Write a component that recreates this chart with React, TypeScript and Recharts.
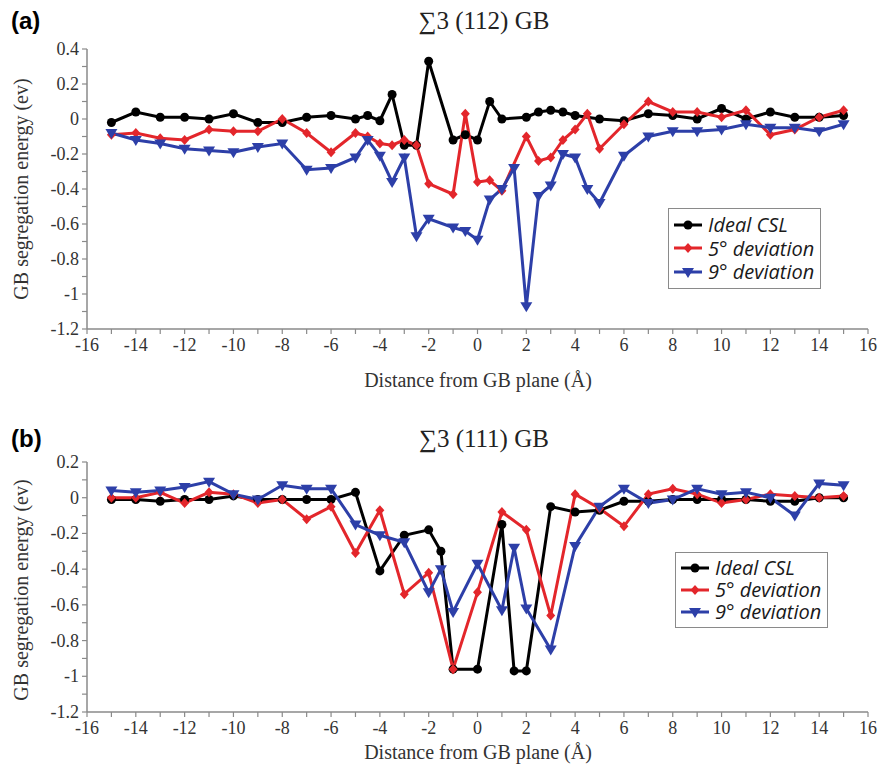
import React from "react";
import { LineChart, Line, XAxis, YAxis } from "recharts";

// ---------- Panel (a): Σ3 (112) GB ----------
const aIdealX = [-15, -14, -13, -12, -11, -10, -9, -8, -7, -6, -5, -4.5, -4, -3.5, -3, -2.5, -2, -1, -0.5, 0, 0.5, 1, 2, 2.5, 3, 3.5, 4, 5, 6, 7, 8, 9, 10, 11, 12, 13, 14, 15];
const aIdealY = [-0.02, 0.04, 0.01, 0.01, 0.0, 0.03, -0.02, -0.02, 0.01, 0.02, 0.0, 0.02, -0.01, 0.14, -0.15, -0.15, 0.33, -0.12, -0.09, -0.12, 0.1, 0.0, 0.01, 0.04, 0.05, 0.04, 0.02, 0.0, -0.01, 0.03, 0.02, 0.0, 0.06, 0.0, 0.04, 0.01, 0.01, 0.02];

const a5X = [-15, -14, -13, -12, -11, -10, -9, -8, -7, -6, -5, -4.5, -4, -3.5, -3, -2.5, -2, -1, -0.5, 0, 0.5, 1, 2, 2.5, 3, 3.5, 4, 4.5, 5, 6, 7, 8, 9, 10, 11, 12, 13, 14, 15];
const a5Y = [-0.09, -0.08, -0.11, -0.12, -0.06, -0.07, -0.07, 0.0, -0.08, -0.19, -0.08, -0.1, -0.14, -0.15, -0.12, -0.15, -0.37, -0.43, 0.03, -0.36, -0.35, -0.41, -0.1, -0.24, -0.22, -0.12, -0.06, 0.03, -0.17, -0.03, 0.1, 0.04, 0.04, 0.01, 0.05, -0.09, -0.06, 0.01, 0.05];

const a9X = [-15, -14, -13, -12, -11, -10, -9, -8, -7, -6, -5, -4.5, -4, -3.5, -3, -2.5, -2, -1, -0.5, 0, 0.5, 1, 1.5, 2, 2.5, 3, 3.5, 4, 4.5, 5, 6, 7, 8, 9, 10, 11, 12, 13, 14, 15];
const a9Y = [-0.08, -0.12, -0.14, -0.17, -0.18, -0.19, -0.16, -0.14, -0.29, -0.28, -0.22, -0.12, -0.21, -0.36, -0.22, -0.67, -0.57, -0.62, -0.64, -0.69, -0.46, -0.4, -0.28, -1.07, -0.44, -0.38, -0.2, -0.22, -0.4, -0.48, -0.21, -0.1, -0.07, -0.07, -0.06, -0.03, -0.05, -0.05, -0.07, -0.03];

// ---------- Panel (b): Σ3 (111) GB ----------
const bIdealX = [-15, -14, -13, -12, -11, -10, -9, -8, -7, -6, -5, -4, -3, -2, -1.5, -1, 0, 1, 1.5, 2, 3, 4, 5, 6, 7, 8, 9, 10, 11, 12, 13, 14, 15];
const bIdealY = [-0.01, -0.01, -0.02, -0.01, -0.01, 0.01, -0.01, -0.01, -0.01, -0.01, 0.03, -0.41, -0.21, -0.18, -0.3, -0.96, -0.96, -0.15, -0.97, -0.97, -0.05, -0.08, -0.07, -0.02, -0.02, -0.01, -0.01, -0.01, -0.01, -0.02, -0.02, 0.0, 0.0];

const b5X = [-15, -14, -13, -12, -11, -10, -9, -8, -7, -6, -5, -4, -3, -2, -1, 0, 1, 2, 3, 4, 5, 6, 7, 8, 9, 10, 11, 12, 13, 14, 15];
const b5Y = [0.0, 0.0, 0.03, -0.03, 0.03, 0.02, -0.03, -0.01, -0.12, -0.05, -0.31, -0.07, -0.54, -0.42, -0.96, -0.53, -0.08, -0.18, -0.66, 0.02, -0.06, -0.16, 0.02, 0.05, 0.02, -0.03, -0.01, 0.02, 0.01, 0.0, 0.01];

const b9X = [-15, -14, -13, -12, -11, -10, -9, -8, -7, -6, -5, -4, -3, -2, -1.5, -1, 0, 1, 1.5, 2, 3, 4, 5, 6, 7, 8, 9, 10, 11, 12, 13, 14, 15];
const b9Y = [0.04, 0.03, 0.04, 0.06, 0.09, 0.02, -0.01, 0.07, 0.05, 0.05, -0.15, -0.21, -0.25, -0.53, -0.4, -0.64, -0.37, -0.63, -0.28, -0.62, -0.85, -0.27, -0.05, 0.05, -0.03, -0.01, 0.05, 0.02, 0.03, 0.0, -0.1, 0.08, 0.07];

// ---------- Ticks & labels ----------
const xTicks = [-16, -15, -14, -13, -12, -11, -10, -9, -8, -7, -6, -5, -4, -3, -2, -1, 0, 1, 2, 3, 4, 5, 6, 7, 8, 9, 10, 11, 12, 13, 14, 15, 16];
const aYTicks = [-1.2, -1.1, -1.0, -0.9, -0.8, -0.7, -0.6, -0.5, -0.4, -0.3, -0.2, -0.1, 0, 0.1, 0.2, 0.3, 0.4];
const bYTicks = [-1.2, -1.1, -1.0, -0.9, -0.8, -0.7, -0.6, -0.5, -0.4, -0.3, -0.2, -0.1, 0, 0.1, 0.2];
const seriesNames = ["Ideal CSL", "5\u00b0 deviation", "9\u00b0 deviation"];
const titleA = "\u22113 (112) GB";
const titleB = "\u22113 (111) GB";
const xLabel = "Distance from GB plane (\u00c5)";
const yLabel = "GB segregation energy (ev)";

const BLACK = "#000000";
const RED = "#e3262b";
const BLUE = "#2d3fa8";
const colors = [BLACK, RED, BLUE];

const zip = (xs: number[], ys: number[]) => xs.map((x, i) => ({ x, y: ys[i] }));

const fmtX = (v: number) => (Math.round(v) % 2 === 0 ? String(v) : "");
const fmtY = (v: number) => {
  const t = Math.round(v * 10);
  if (t % 2 !== 0) return "";
  if (t === 0) return "0";
  return String(Number(v.toFixed(1)));
};

const serif = "'Liberation Serif', 'Times New Roman', serif";

const XTick = (props: any) => {
  const { x, y, payload } = props;
  const s = fmtX(payload.value);
  if (!s) return <g />;
  return (
    <text x={x} y={y + 14} textAnchor="middle" fontFamily={serif} fontSize={18} fill="#333" style={{ fontFamily: serif }}>
      {s}
    </text>
  );
};

const YTick = (props: any) => {
  const { x, y, payload } = props;
  const s = fmtY(payload.value);
  if (!s) return <g />;
  return (
    <text x={x} y={y + 6} textAnchor="end" fontFamily={serif} fontSize={18} fill="#333" style={{ fontFamily: serif }}>
      {s}
    </text>
  );
};

const renderMarker = (kind: number, cx: number, cy: number, color: string, key?: any) => {
  if (kind === 0) return <circle key={key} cx={cx} cy={cy} r={4.5} fill={color} />;
  if (kind === 1)
    return (
      <polygon key={key} points={`${cx},${cy - 5} ${cx + 4.5},${cy} ${cx},${cy + 5} ${cx - 4.5},${cy}`} fill={color} />
    );
  return <polygon key={key} points={`${cx - 6},${cy - 4} ${cx + 6},${cy - 4} ${cx},${cy + 6}`} fill={color} />;
};

const makeDot = (kind: number, color: string) => (props: any) => {
  const { cx, cy, index } = props;
  if (cx == null || cy == null) return <g key={index} />;
  return renderMarker(kind, cx, cy, color, index);
};

const axisColor = "#8a8a8a";

const Panel = ({
  series,
  yTicks,
  yDomain,
  height,
  margin,
}: {
  series: { x: number; y: number }[][];
  yTicks: number[];
  yDomain: [number, number];
  height: number;
  margin: any;
}) => (
  <LineChart width={882} height={height} margin={margin} style={{ fontFamily: serif }}>
    <XAxis
      type="number"
      dataKey="x"
      domain={[-16, 16]}
      ticks={xTicks}
      interval={0}
      tick={XTick}
      tickSize={5}
      tickMargin={3}
      height={30}
      axisLine={{ stroke: axisColor, strokeWidth: 1.5 }}
      tickLine={{ stroke: axisColor, strokeWidth: 1.2 }}
      allowDataOverflow
    />
    <YAxis
      type="number"
      dataKey="y"
      domain={yDomain}
      ticks={yTicks}
      interval={0}
      tick={YTick}
      tickSize={5}
      tickMargin={3}
      width={60}
      axisLine={{ stroke: axisColor, strokeWidth: 1.5 }}
      tickLine={{ stroke: axisColor, strokeWidth: 1.2 }}
      allowDataOverflow
    />
    {series.map((d, i) => (
      <Line
        key={i}
        data={d}
        dataKey="y"
        type="linear"
        stroke={colors[i]}
        strokeWidth={3}
        dot={makeDot(i, colors[i])}
        activeDot={false}
        isAnimationActive={false}
        name={seriesNames[i]}
      />
    ))}
  </LineChart>
);

const LegendBox = ({ left, top, rowH }: { left: number; top: number; rowH: number }) => (
  <div
    style={{
      position: "absolute",
      left,
      top,
      border: "1px solid #8a8a8a",
      background: "#fff",
      padding: "4px 6px 4px 4px",
      fontFamily: "'Open Sans', sans-serif",
      fontStyle: "italic",
      fontSize: 20,
      lineHeight: `${rowH}px`,
      color: "#1a1a1a",
    }}
  >
    {seriesNames.map((n, i) => (
      <div key={n} style={{ display: "flex", alignItems: "center", height: rowH, whiteSpace: "nowrap" }}>
        <svg width={30} height={14} style={{ marginRight: 5 }}>
          <line x1={1} y1={7} x2={29} y2={7} stroke={colors[i]} strokeWidth={3} />
          {renderMarker(i, 15, 7, colors[i])}
        </svg>
        <span style={{ display: "inline-block", height: rowH, lineHeight: `${rowH}px`, overflow: "visible" }}>{n}</span>
      </div>
    ))}
  </div>
);

export default function App() {
  return (
    <div style={{ position: "absolute", left: 0, top: 0, width: 882, height: 764, background: "#fff", overflow: "hidden", fontFamily: serif }}>
      {/* Panel (a) */}
      <div style={{ position: "absolute", left: 0, top: 0 }}>
        <Panel
          series={[zip(aIdealX, aIdealY), zip(a5X, a5Y), zip(a9X, a9Y)]}
          yTicks={aYTicks}
          yDomain={[-1.2, 0.4]}
          height={390}
          margin={{ top: 49, right: 14, bottom: 31, left: 27 }}
        />
      </div>
      {/* Panel (b) */}
      <div style={{ position: "absolute", left: 0, top: 390 }}>
        <Panel
          series={[zip(bIdealX, bIdealY), zip(b5X, b5Y), zip(b9X, b9Y)]}
          yTicks={bYTicks}
          yDomain={[-1.2, 0.2]}
          height={374}
          margin={{ top: 72, right: 14, bottom: 22, left: 27 }}
        />
      </div>

      {/* Panel letters */}
      <div style={{ position: "absolute", left: 11, top: 8, fontFamily: "'Liberation Sans', sans-serif", fontWeight: "bold", fontSize: 24, lineHeight: "26px" }}>(a)</div>
      <div style={{ position: "absolute", left: 11, top: 426, fontFamily: "'Liberation Sans', sans-serif", fontWeight: "bold", fontSize: 24, lineHeight: "26px" }}>(b)</div>

      {/* Titles */}
      <div style={{ position: "absolute", left: 334, width: 300, top: 7, textAlign: "center", fontFamily: serif, fontSize: 25, lineHeight: "28px", color: "#222" }}>{titleA}</div>
      <div style={{ position: "absolute", left: 334, width: 300, top: 425, textAlign: "center", fontFamily: serif, fontSize: 25, lineHeight: "28px", color: "#222" }}>{titleB}</div>

      {/* X labels */}
      <div style={{ position: "absolute", left: 278, width: 400, top: 369, textAlign: "center", fontFamily: serif, fontSize: 20, lineHeight: "22px", color: "#333" }}>{xLabel}</div>
      <div style={{ position: "absolute", left: 278, width: 400, top: 741, textAlign: "center", fontFamily: serif, fontSize: 20, lineHeight: "22px", color: "#333" }}>{xLabel}</div>

      {/* Y labels */}
      <div style={{ position: "absolute", left: 21, top: 189, width: 0, height: 0 }}>
        <div style={{ position: "absolute", left: -150, top: -11, width: 300, textAlign: "center", transform: "rotate(-90deg)", fontFamily: serif, fontSize: 20, lineHeight: "22px", color: "#333", whiteSpace: "nowrap" }}>{yLabel}</div>
      </div>
      <div style={{ position: "absolute", left: 21, top: 590, width: 0, height: 0 }}>
        <div style={{ position: "absolute", left: -150, top: -11, width: 300, textAlign: "center", transform: "rotate(-90deg)", fontFamily: serif, fontSize: 20, lineHeight: "22px", color: "#333", whiteSpace: "nowrap" }}>{yLabel}</div>
      </div>

      {/* Legends */}
      <LegendBox left={668} top={208} rowH={23.5} />
      <LegendBox left={675} top={552} rowH={22} />
    </div>
  );
}
